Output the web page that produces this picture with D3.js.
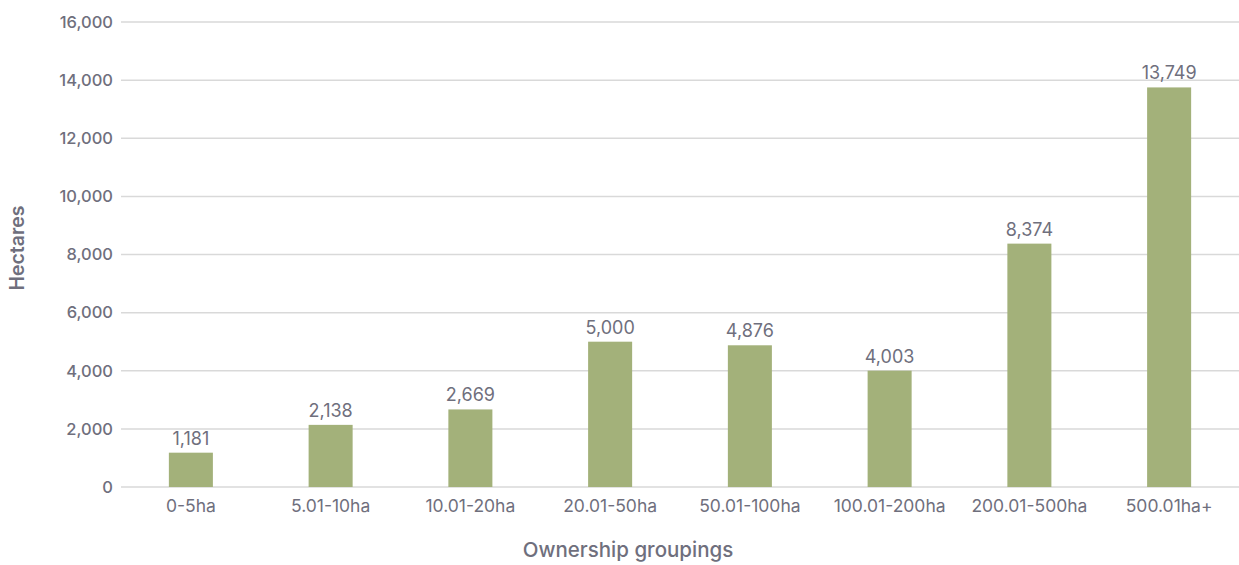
<!DOCTYPE html>
<html>
<head>
<meta charset="utf-8">
<script src="https://cdn.jsdelivr.net/npm/d3@7"></script>
<style>
  body { margin: 0; background: #fff; }
  text { font-family: Inter, "Noto Sans", sans-serif; fill: #6f6f7d; }
</style>
</head>
<body>
<svg id="chart" width="1239" height="565"></svg>
<script>
// data
var groupings = ["0-5ha", "5.01-10ha", "10.01-20ha", "20.01-50ha", "50.01-100ha", "100.01-200ha", "200.01-500ha", "500.01ha+"];
var hectares = [1181, 2138, 2669, 5000, 4876, 4003, 8374, 13749];
var yTicks = [0, 2000, 4000, 6000, 8000, 10000, 12000, 14000, 16000];

var svg = d3.select("#chart");
// plot edges (window.top is reserved, so own names)
var plotL = 121, plotR = 1239, plotT = 22, plotB = 487;

var x = d3.scaleBand().domain(groupings).range([plotL, plotR]);
var y = d3.scaleLinear().domain([0, 16000]).range([plotB, plotT]);
var fmt = d3.format(",");
var barW = x.step() * 0.315;

// gridlines
svg.append("g").selectAll("line")
  .data(yTicks)
  .join("line")
  .attr("x1", plotL).attr("x2", plotR)
  .attr("y1", function (d) { return y(d); })
  .attr("y2", function (d) { return y(d); })
  .attr("stroke", "#d9d9d9")
  .attr("stroke-width", 1.5);

// y axis labels
var yAxis = svg.append("g")
  .attr("transform", "translate(" + (plotL - 8) + ",0)")
  .call(d3.axisLeft(y).tickValues(yTicks).tickFormat(fmt).tickSize(0).tickPadding(0));
yAxis.select(".domain").remove();
yAxis.selectAll("text")
  .style("font-size", "16.5px").style("font-weight", "500").style("fill", "#6f6f7d");

// bars
svg.append("g").selectAll("rect")
  .data(hectares)
  .join("rect")
  .attr("x", function (d, i) { return x(groupings[i]) + (x.step() - barW) / 2; })
  .attr("y", function (d) { return y(d); })
  .attr("width", barW)
  .attr("height", function (d) { return plotB - y(d); })
  .attr("fill", "#a3b17a");

// value labels
svg.append("g").selectAll("text")
  .data(hectares)
  .join("text")
  .attr("x", function (d, i) { return x(groupings[i]) + x.step() / 2; })
  .attr("y", function (d) { return y(d) - 8; })
  .attr("text-anchor", "middle")
  .style("font-size", "18px")
  .text(function (d) { return fmt(d); });

// x axis labels
var xAxis = svg.append("g")
  .attr("transform", "translate(0," + plotB + ")")
  .call(d3.axisBottom(x).tickSize(0).tickPadding(13));
xAxis.select(".domain").remove();
xAxis.selectAll("text")
  .style("font-size", "17.5px").style("fill", "#6f6f7d");

// axis titles
svg.append("text")
  .attr("x", (plotL + plotR) / 2 - 52)
  .attr("y", 557)
  .attr("text-anchor", "middle")
  .style("font-size", "20.5px").style("font-weight", "500")
  .text("Ownership groupings");

svg.append("text")
  .attr("transform", "translate(24,248) rotate(-90)")
  .attr("text-anchor", "middle")
  .style("font-size", "19.5px").style("font-weight", "600")
  .text("Hectares");
</script>
</body>
</html>
